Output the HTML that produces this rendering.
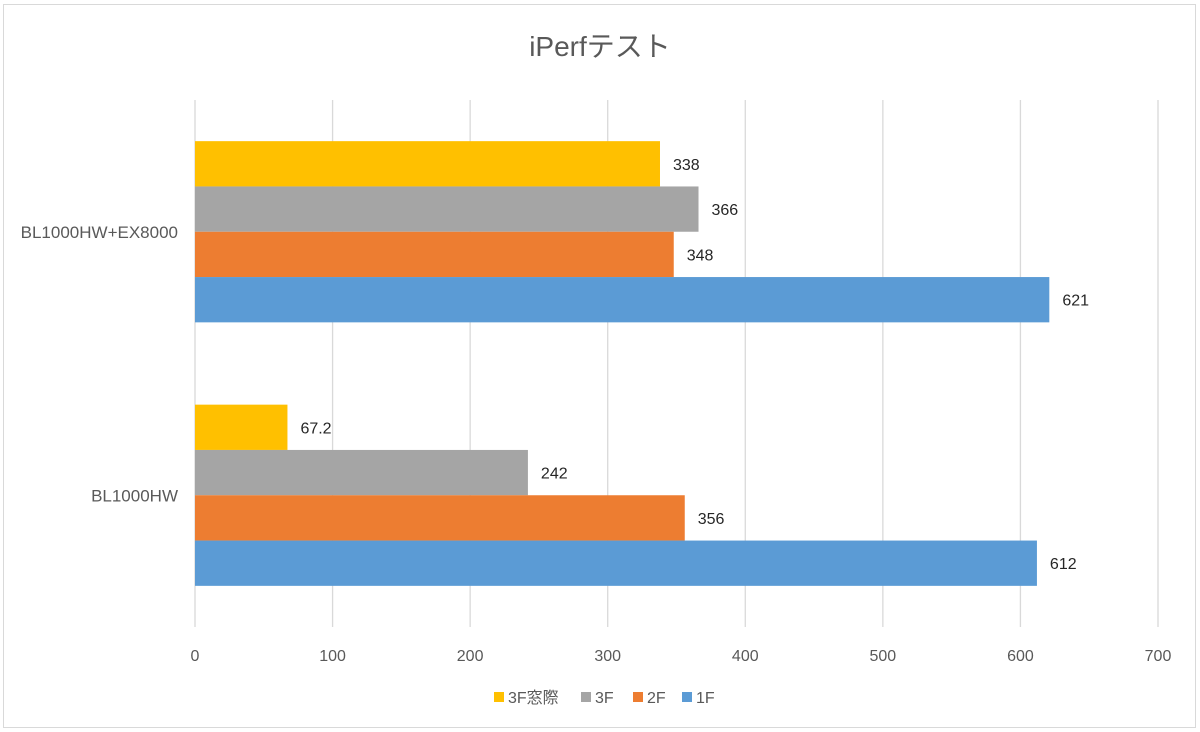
<!DOCTYPE html>
<html><head><meta charset="utf-8"><style>
html,body{margin:0;padding:0;background:#fff;width:1200px;height:732px;overflow:hidden}
svg{display:block;font-family:"Liberation Sans","Noto Sans CJK JP",sans-serif}
</style></head><body>
<svg id="chart" width="1200" height="732">
<rect x="3.5" y="4.5" width="1192" height="723" fill="#fff" stroke="#d9d9d9"/>
<text x="600" y="56" text-anchor="middle" font-size="28" fill="#595959">iPerfテスト</text>
<g id="grid"></g><g id="bars"></g><g id="labels"></g>
<g id="legend"></g>
</svg>
<script>
const categories = ["BL1000HW+EX8000", "BL1000HW"];
const seriesNames = ["3F窓際", "3F", "2F", "1F"];
const seriesColors = ["#ffc000", "#a5a5a5", "#ed7d31", "#5b9bd5"];
const values3Fwin = [338, 67.2];
const values3F = [366, 242];
const values2F = [348, 356];
const values1F = [621, 612];
const xTicks = [0, 100, 200, 300, 400, 500, 600, 700];

const series = [values3Fwin, values3F, values2F, values1F];
const NS = "http://www.w3.org/2000/svg";
const x0 = 195, x1 = 1158, yTop = 100, yBot = 627;
const xScale = v => x0 + (v / 700) * (x1 - x0);
const bandH = (yBot - yTop) / categories.length;
const barH = 45.3;
function mk(tag, attrs, parent) { const e = document.createElementNS(NS, tag); for (const k in attrs) e.setAttribute(k, attrs[k]); parent.appendChild(e); return e; }
const grid = document.getElementById("grid"), bars = document.getElementById("bars"), labels = document.getElementById("labels"), legend = document.getElementById("legend");
xTicks.forEach(t => {
  const l = mk("line", {x1: xScale(t), x2: xScale(t), y1: yTop, y2: yBot, stroke: "#d9d9d9", "stroke-width": 1.3}, grid);
  
  
  const tx = mk("text", {x: xScale(t), y: 661, "text-anchor": "middle", "font-size": 16, fill: "#595959"}, grid);
  tx.textContent = t;
  
  
});
categories.forEach((c, ci) => {
  const center = yTop + bandH * (ci + 0.5);
  const ct = mk("text", {x: 178, y: center + 6, "text-anchor": "end", "font-size": 17, fill: "#595959"}, labels);
  ct.textContent = c;
  
  
  const start = center - barH * series.length / 2;
  series.forEach((s, si) => {
    const y = start + si * barH;
    const r = mk("rect", {x: x0, y: y, width: xScale(s[ci]) - x0, height: barH, fill: seriesColors[si]}, bars);
    
    
    const vt = mk("text", {x: xScale(s[ci]) + 13, y: y + barH / 2 + 6, "font-size": 16, fill: "#262626"}, labels);
    vt.textContent = s[ci];
    
    
  });
});
const legX = [494, 581, 633, 682];
seriesNames.forEach((n, i) => {
  const g = mk("g", {}, legend);
  
  
  mk("rect", {x: legX[i], y: 692, width: 10, height: 10, fill: seriesColors[i]}, g);
  const t = mk("text", {x: legX[i] + 14, y: 703, "font-size": 16, fill: "#595959"}, g);
  t.textContent = n;
});
</script>
</body></html>
